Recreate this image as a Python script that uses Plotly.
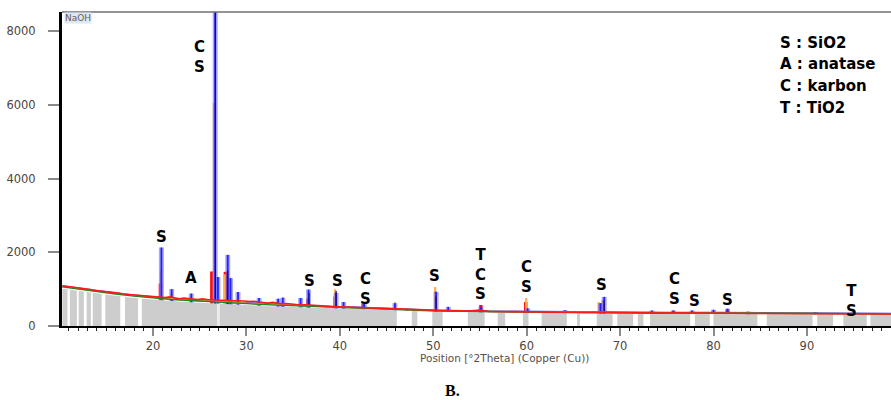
import numpy as np
import plotly.graph_objects as go

# ---------------- data ----------------
bg_x = [10.3, 12, 14, 16, 18, 20, 22, 24, 26, 28, 30, 32, 34, 36, 38, 40, 42, 44, 46, 48,
        50, 55, 60, 65, 70, 75, 80, 85, 90, 95, 99]
green_y = [1060, 1000, 930, 870, 810, 760, 720, 690, 660, 630, 605, 580, 560, 540, 520, 505,
           490, 470, 450, 430, 415, 395, 380, 370, 360, 355, 350, 345, 340, 335, 330]
gray_top = [1010, 950, 880, 820, 760, 710, 675, 645, 615, 590, 565, 545, 525, 505, 490, 475,
            460, 445, 425, 405, 390, 370, 355, 345, 335, 330, 325, 320, 315, 312, 308]
blue_base = [1080, 1020, 950, 895, 830, 780, 745, 710, 690, 650, 625, 600, 580, 560, 535, 520,
             505, 480, 460, 440, 425, 405, 390, 380, 368, 362, 360, 352, 348, 342, 336]
orange_base = [1070, 1010, 945, 885, 820, 775, 735, 700, 680, 645, 615, 590, 575, 550, 530, 512,
               498, 476, 455, 436, 420, 400, 385, 375, 364, 358, 354, 350, 344, 338, 332]

red_x = [10.3, 10.8, 11.3, 11.8, 12.3, 12.8, 13.3, 13.8, 14.3, 14.8, 15.3, 15.8, 16.3, 16.8,
         17.3, 17.8, 18.3, 18.8, 19.3, 19.8, 20.3, 21.3, 21.8, 22.3, 22.8, 23.3, 23.8, 24.3,
         24.8, 25.3, 25.8, 27.3, 28.8, 29.3, 29.8, 30.3, 30.8, 31.3, 31.8, 32.3, 32.8, 33.3,
         33.8, 34.3, 34.8, 35.3, 35.8, 36.3, 37, 38, 39, 40, 41, 42, 43, 44, 46, 48, 50, 52,
         54, 55, 56, 58, 60, 62, 64, 66, 68, 70, 72, 74, 76, 78, 80, 82, 84, 86, 88, 90, 92,
         94, 96, 99]
red_y = [1090, 1075, 1050, 1040, 1010, 1000, 990, 960, 950, 940, 925, 900, 895, 870, 860,
         845, 830, 820, 800, 790, 780, 770, 790, 760, 740, 755, 745, 730, 720, 735, 720, 700,
         690, 700, 680, 665, 670, 650, 640, 625, 640, 610, 600, 610, 590, 585, 570, 575, 555,
         545, 530, 520, 505, 500, 485, 480, 460, 440, 425, 410, 415, 430, 395, 385, 390, 375,
         370, 365, 370, 358, 360, 350, 355, 345, 350, 345, 340, 340, 335, 340, 330, 335, 330, 325]

blue_peak_x = [20.9, 22.0, 24.1, 26.66, 26.95, 28.0, 28.3, 29.1, 31.35, 33.4, 33.9, 35.8, 36.65,
               39.6, 40.4, 42.6, 45.9, 47.2, 50.3, 51.6, 55.1, 60.1, 64.1, 67.9, 68.3, 73.4, 75.7,
               77.7, 80.0, 81.5, 83.7, 90.9, 94.8]
blue_peak_y = [2130, 1000, 880, 9000, 1330, 1930, 1300, 920, 760, 740, 770, 760, 990, 900, 650,
               620, 620, 470, 930, 520, 520, 480, 430, 620, 790, 420, 420, 420, 440, 470, 390,
               380, 360]
navy_peak_x = [26.68, 28.0, 36.7, 39.6, 50.3, 68.3]
navy_peak_y = [9000, 1500, 900, 950, 800, 700]
orange_peak_x = [20.85, 22.0, 26.52, 27.7, 39.5, 45.9, 50.2, 59.95, 67.7, 68.1, 75.7]
orange_peak_y = [1500, 900, 6050, 1400, 1000, 650, 1060, 760, 650, 700, 430]
red_peak_x = [20.8, 26.3, 26.45, 27.75, 36.6, 39.5, 42.5, 55.1, 59.9, 68.0, 81.5]
red_peak_y = [1150, 1480, 1200, 1470, 740, 800, 600, 570, 650, 600, 450]

gap_start = [10.85, 11.85, 12.6, 13.35, 14.5, 16.5, 18.4, 46.1, 48.3, 51.0, 55.5, 57.7, 60.2,
             64.3, 65.7, 69.2, 71.4, 72.5, 77.5, 79.6, 84.7, 90.6, 92.8, 96.4]
gap_end = [11.1, 12.05, 12.9, 13.55, 14.9, 17.0, 18.8, 47.7, 49.9, 53.7, 56.9, 59.6, 61.6,
           65.4, 67.5, 69.7, 71.9, 73.2, 78.0, 80.0, 85.7, 91.1, 93.9, 96.8]
faint_gap_start = [26.85]
faint_gap_end = [27.15]

label_x = [20.86, 24.07, 25.0, 36.8, 39.8, 42.8, 50.1, 55.1, 59.95, 67.97, 75.8, 78.0, 81.45, 94.75]
label_y = [2415, 1303, 7300, 1221, 1221, 1004, 1357, 1411, 1330, 1113, 991, 679, 706, 679]
label_text = ["S", "A", "C<br>S", "S", "S", "C<br>S", "S", "T<br>C<br>S", "C<br>S", "S",
              "C<br>S", "S", "S", "T<br>S"]
legend_lines = ["S : SiO2", "A : anatase", "C : karbon", "T : TiO2"]

# ---------------- geometry ----------------
W, H = 891, 400
ML, MR, MT, MB = 62, 0, 12, 74
X_RANGE = [10.26, 99.0]
Y_RANGE = [0, 8520]


def px_to_paper_x(px):
    return (px - ML) / (W - ML - MR)


def py_to_paper_y(py):
    return (H - MB - py) / (H - MB - MT)


def spikes(xs, ys):
    X, Y = [], []
    for x, y in zip(xs, ys):
        X += [x, x, None]
        Y += [0, y, None]
    return X, Y


def gap_polys(starts, ends):
    X, Y = [], []
    for a, b in zip(starts, ends):
        h = float(np.interp((a + b) / 2, bg_x, gray_top))
        X += [a, a, b, b, a, None]
        Y += [0, h, h, 0, 0, None]
    return X, Y


fig = go.Figure()

# peaks (drawn first, lower part hidden by the gray background)
x, y = spikes(red_peak_x, red_peak_y)
fig.add_trace(go.Scatter(x=x, y=y, mode="lines", line=dict(color="#ff1010", width=3.5)))
x, y = spikes(orange_peak_x, orange_peak_y)
fig.add_trace(go.Scatter(x=x, y=y, mode="lines", line=dict(color="#ffad4d", width=2.2)))
x, y = spikes(blue_peak_x, blue_peak_y)
fig.add_trace(go.Scatter(x=x, y=y, mode="lines", line=dict(color="rgba(110,110,255,0.6)", width=5)))
fig.add_trace(go.Scatter(x=x, y=y, mode="lines", line=dict(color="#2222ff", width=1.8)))
x, y = spikes(navy_peak_x, navy_peak_y)
fig.add_trace(go.Scatter(x=x, y=y, mode="lines", line=dict(color="#1a0a80", width=1.2)))

# gray background profile
fig.add_trace(go.Scatter(x=bg_x, y=gray_top, mode="lines", fill="tozeroy",
                         fillcolor="#cdcdcd", line=dict(width=0, color="#cdcdcd")))
x, y = gap_polys(gap_start, gap_end)
fig.add_trace(go.Scatter(x=x, y=y, mode="lines", fill="toself", fillcolor="white",
                         line=dict(width=0, color="white")))
x, y = gap_polys(faint_gap_start, faint_gap_end)
fig.add_trace(go.Scatter(x=x, y=y, mode="lines", fill="toself", fillcolor="#ececec",
                         line=dict(width=0, color="#ececec")))

# baseline band lines
fig.add_trace(go.Scatter(x=bg_x, y=blue_base, mode="lines", line=dict(color="#3a3aff", width=1.8)))
fig.add_trace(go.Scatter(x=bg_x, y=orange_base, mode="lines", line=dict(color="#ffa040", width=1.5)))
fig.add_trace(go.Scatter(x=bg_x, y=green_y, mode="lines", line=dict(color="#1a8a1a", width=1.4)))
fig.add_trace(go.Scatter(x=red_x, y=red_y, mode="lines", line=dict(color="#ff1a1a", width=1.6)))

annotations = []
for lx, ly, lt in zip(label_x, label_y, label_text):
    annotations.append(dict(x=lx, y=ly, xref="x", yref="y", text=lt, showarrow=False,
                            xanchor="center", yanchor="middle",
                            font=dict(family="DejaVu Sans", size=15, color="black", weight="bold")))

legend_py = [43, 64, 86, 108]
for txt, py in zip(legend_lines, legend_py):
    annotations.append(dict(x=px_to_paper_x(778), y=py_to_paper_y(py), xref="paper", yref="paper",
                            text=txt, showarrow=False, xanchor="left", yanchor="middle",
                            font=dict(family="DejaVu Sans", size=15, color="black", weight="bold")))

annotations.append(dict(x=px_to_paper_x(64), y=1, xref="paper", yref="paper", text="NaOH",
                        showarrow=False, xanchor="left", yanchor="top", bgcolor="#dce8f8",
                        borderpad=0, font=dict(family="DejaVu Sans", size=9, color="#6a5a4a")))
annotations.append(dict(x=px_to_paper_x(504), y=py_to_paper_y(358), xref="paper", yref="paper",
                        text="Position [°2Theta] (Copper (Cu))", showarrow=False,
                        xanchor="center", yanchor="middle",
                        font=dict(family="DejaVu Sans", size=10.5, color="#5a4e46")))
annotations.append(dict(x=px_to_paper_x(452), y=py_to_paper_y(390), xref="paper", yref="paper",
                        text="B.", showarrow=False, xanchor="center", yanchor="middle",
                        font=dict(family="Liberation Serif", size=16, color="black", weight="bold")))

fig.update_layout(
    width=W, height=H, autosize=False,
    margin=dict(l=ML, r=MR, t=MT, b=MB, pad=0),
    plot_bgcolor="white", paper_bgcolor="white",
    showlegend=False,
    annotations=annotations,
    shapes=[dict(type="line", xref="paper", yref="paper", x0=0, x1=1, y0=1, y1=1,
                 line=dict(color="#707070", width=1.5))],
    xaxis=dict(range=X_RANGE, showgrid=False, zeroline=False, showline=True,
               linecolor="black", linewidth=2, ticks="outside", ticklen=8, tickwidth=2,
               tickcolor="#8a8a8a", tick0=0, dtick=10,
               tickfont=dict(family="DejaVu Sans", size=11.5, color="#4d4540"),
               minor=dict(dtick=1, ticks="outside", ticklen=3, tickcolor="#222", tickwidth=1)),
    yaxis=dict(range=Y_RANGE, showgrid=False, zeroline=False, showline=True,
               linecolor="black", linewidth=3, ticks="outside", ticklen=11, tickwidth=1.5,
               tickcolor="#8a8a8a", tick0=0, dtick=2000, ticklabelstandoff=10,
               tickfont=dict(family="DejaVu Sans", size=11.5, color="#4d4540")),
)

fig.write_html("out.html")
